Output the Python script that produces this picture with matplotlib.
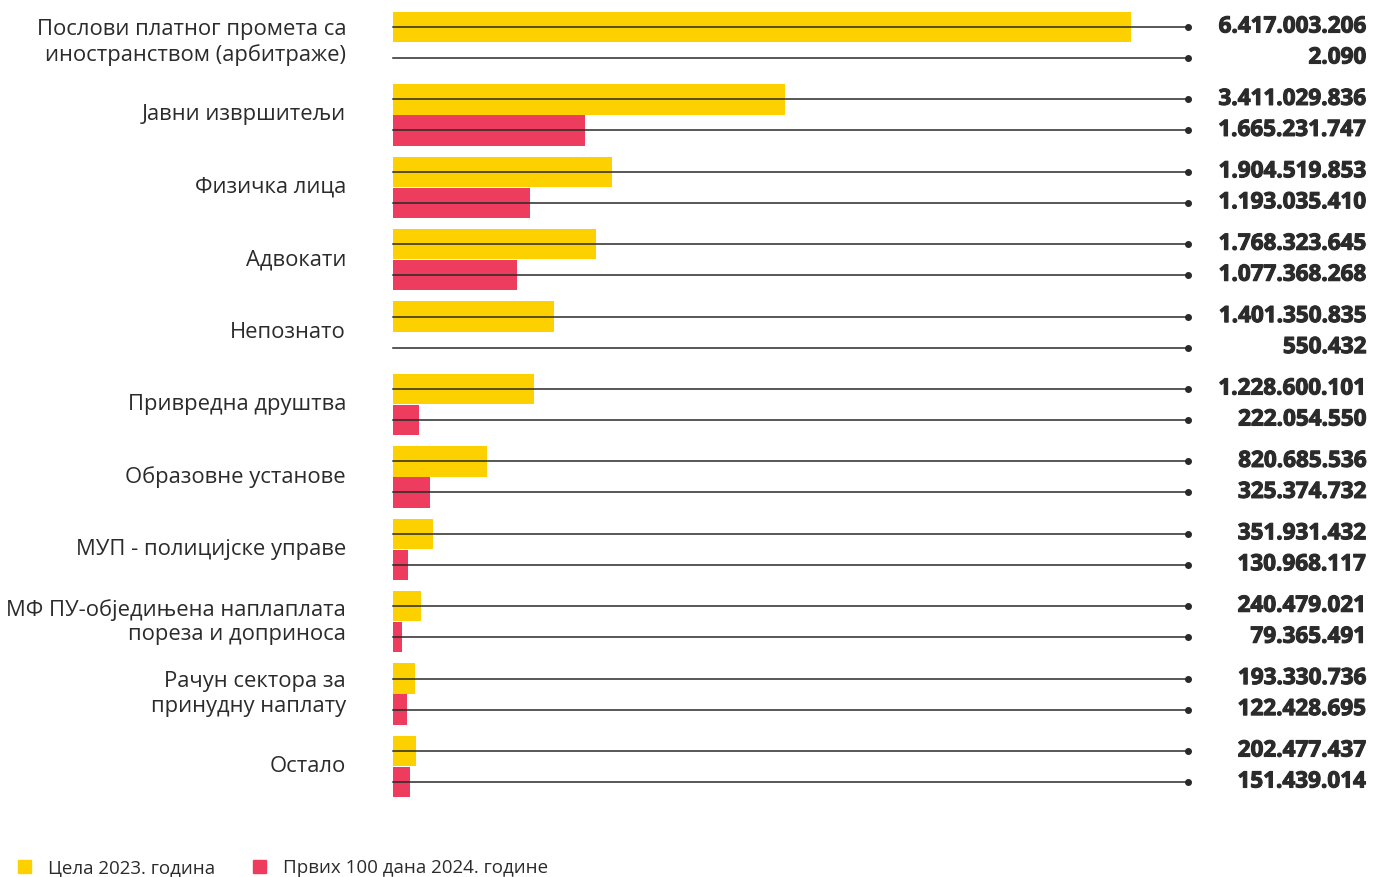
import matplotlib
matplotlib.use("Agg")
import matplotlib.pyplot as plt
import matplotlib.patheffects as pe
from matplotlib.patches import Patch

plt.rcParams['font.family'] = ['Open Sans', 'DejaVu Sans']

# categories top to bottom
categories = [
    "Послови платног промета са\nиностранством (арбитраже)",
    "Јавни извршитељи",
    "Физичка лица",
    "Адвокати",
    "Непознато",
    "Привредна друштва",
    "Образовне установе",
    "МУП - полицијске управе",
    "МФ ПУ-обједињена наплаплата\nпореза и доприноса",
    "Рачун сектора за\nпринудну наплату",
    "Остало",
]
vals_2023 = [6417003206, 3411029836, 1904519853, 1768323645, 1401350835,
             1228600101, 820685536, 351931432, 240479021, 193330736, 202477437]
vals_2024 = [2090, 1665231747, 1193035410, 1077368268, 550432,
             222054550, 325374732, 130968117, 79365491, 122428695, 151439014]
legend_labels = ["Цела 2023. година", "Првих 100 дана 2024. године"]

YELLOW = "#FDD100"
RED = "#EE3C5F"
TEXT = "#2B2B2B"
LINE = "#2a2a2a"


def fmt(v):
    return f"{v:,}".replace(",", ".")


fig = plt.figure(figsize=(13.81, 8.77), dpi=100)
ax = fig.add_axes([393 / 1381, 1 - 802.7 / 877, 795 / 1381, 796.4 / 877])

xmax = vals_2023[0] * 795 / 738
off = 0.214
h = 0.42
thick = [pe.withStroke(linewidth=0.8, foreground=TEXT)]

for i, (a, b) in enumerate(zip(vals_2023, vals_2024)):
    ax.barh(i - off, a, height=h, color=YELLOW, zorder=1)
    ax.barh(i + off, b, height=h, color=RED, zorder=1)
    for y, v in ((i - off, a), (i + off, b)):
        ax.plot([0, xmax], [y, y], color=LINE, lw=1.1, marker='o', ms=4,
                markevery=[1], zorder=3, clip_on=False)
        ax.text(1.224, y, fmt(v), transform=ax.get_yaxis_transform(),
                ha='right', va='center', fontsize=16.2, fontweight='bold',
                color=TEXT, path_effects=thick)
    ax.text(-0.059, i, categories[i], transform=ax.get_yaxis_transform(),
            ha='right', va='center', fontsize=15.8, color=TEXT,
            linespacing=1.2)

ax.set_xlim(0, xmax)
ax.set_ylim(10.5, -0.5)
ax.axis('off')

handles = [Patch(color=YELLOW), Patch(color=RED)]
fig.legend(handles, legend_labels, loc='center left',
           bbox_to_anchor=(0.001, 0.01), ncol=2, frameon=False,
           fontsize=13.5, handlelength=0.7, handleheight=0.7,
           handletextpad=0.9, columnspacing=2.0, labelcolor=TEXT)

fig.savefig("out.png", dpi=100)
